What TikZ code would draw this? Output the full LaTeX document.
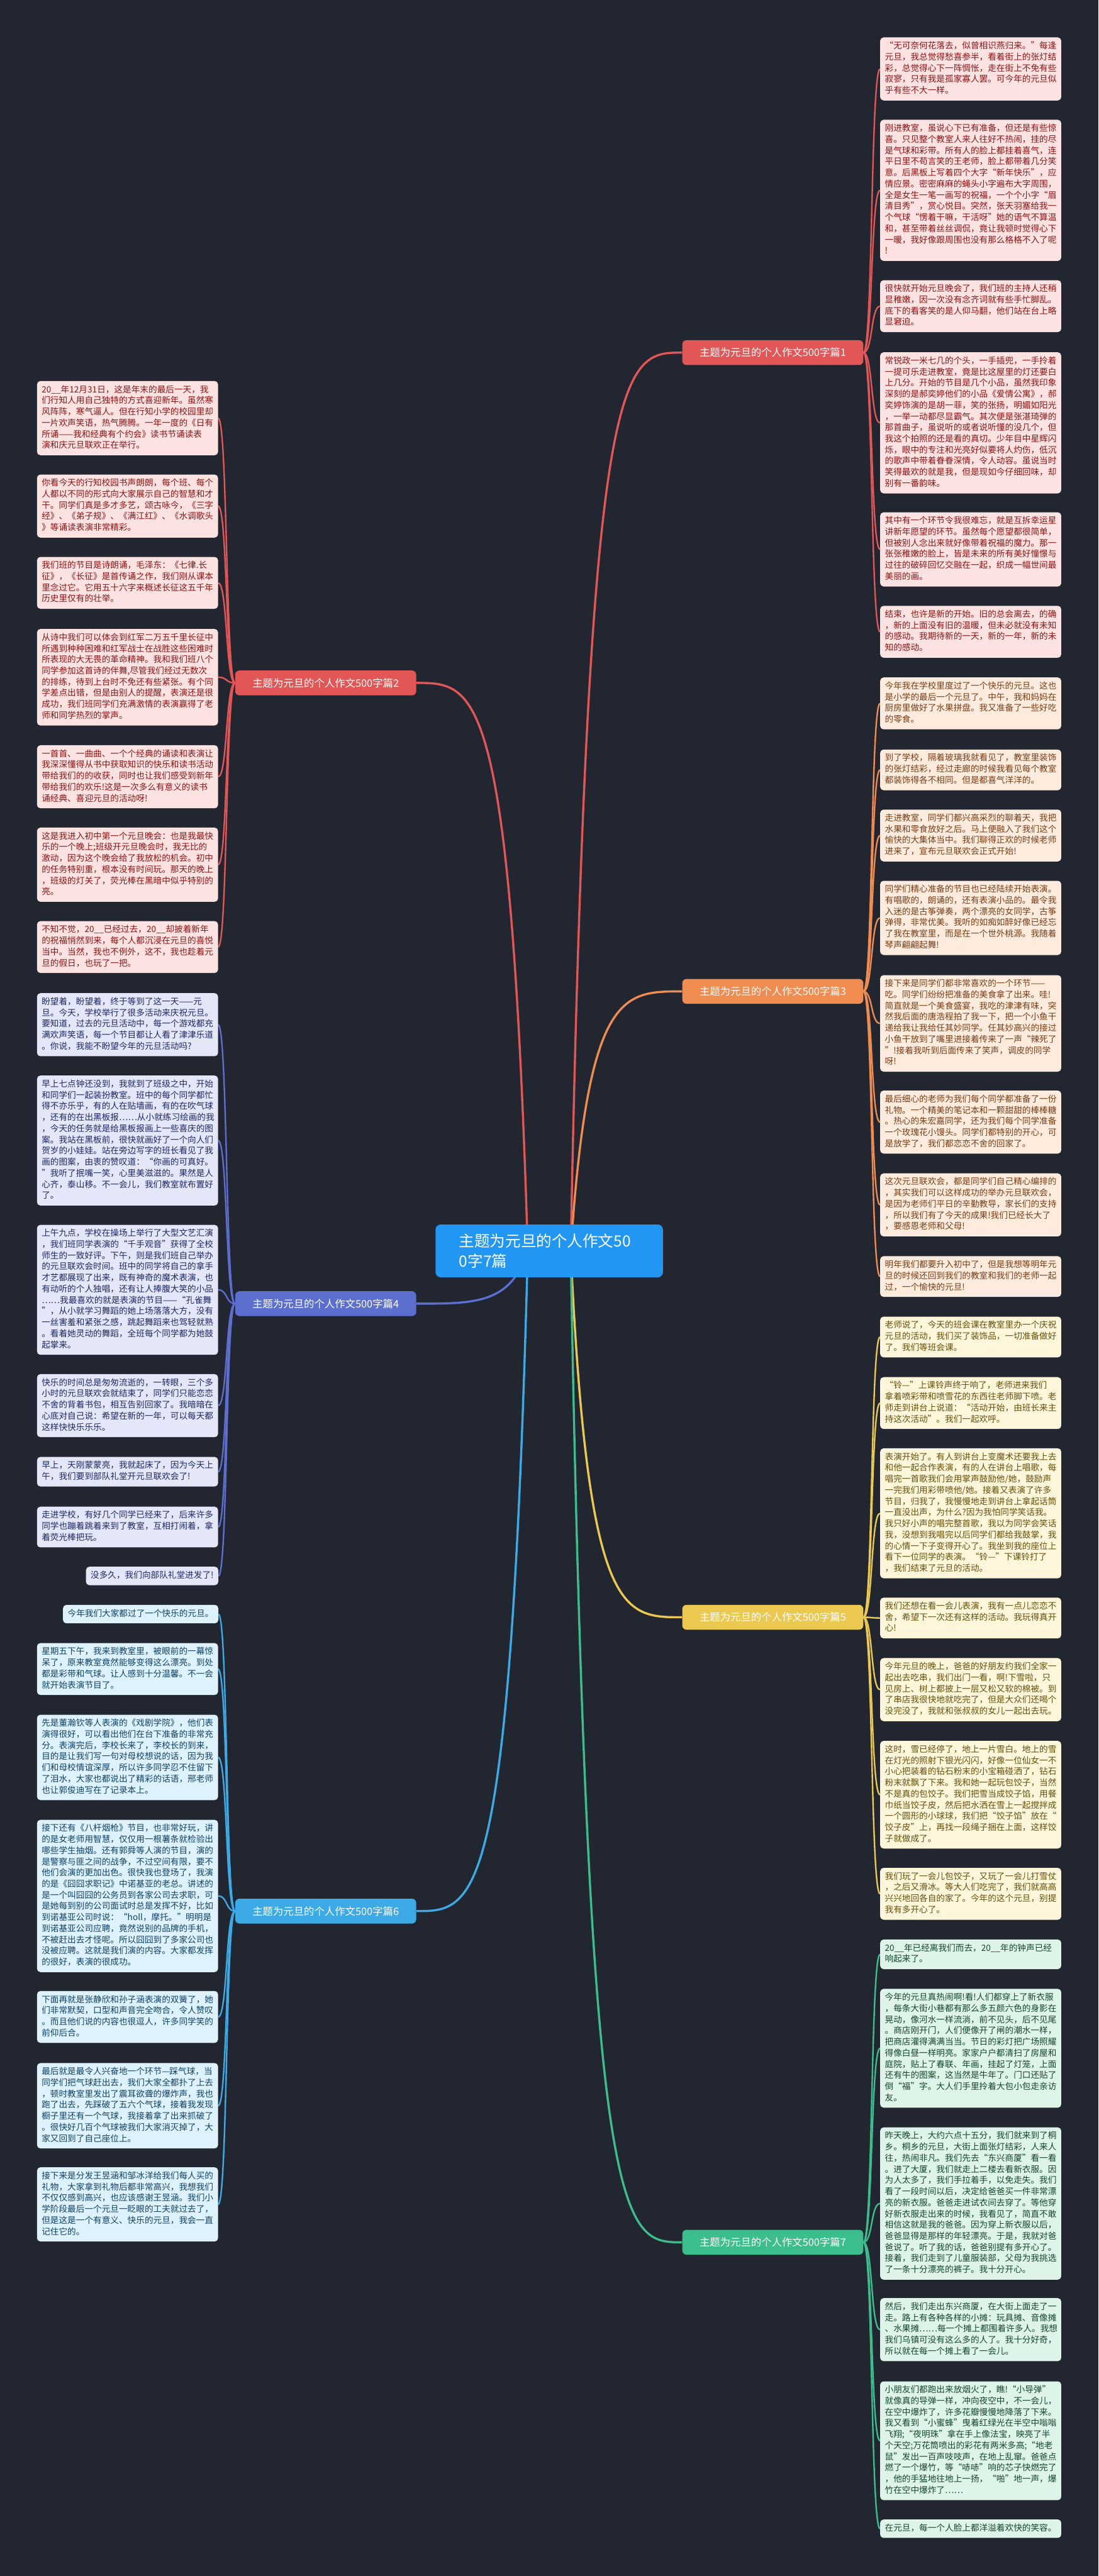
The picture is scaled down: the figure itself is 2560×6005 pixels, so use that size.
\documentclass[tikz,border=0pt]{standalone}
\usepackage{fontspec}
\newfontfamily\cjk{Noto Sans CJK SC}
\usetikzlibrary{backgrounds}
\definecolor{bgc}{RGB}{34,38,49}
\definecolor{c1}{RGB}{226,86,86}
\definecolor{c3}{RGB}{240,140,80}
\definecolor{c4}{RGB}{92,110,206}
\definecolor{c5}{RGB}{235,200,80}
\definecolor{c6}{RGB}{60,170,230}
\definecolor{c7}{RGB}{60,190,140}
\definecolor{cc}{RGB}{33,150,243}
\definecolor{f1}{RGB}{253,226,226}\definecolor{t1}{RGB}{140,20,20}
\definecolor{f3}{RGB}{253,236,222}\definecolor{t3}{RGB}{120,60,20}
\definecolor{f4}{RGB}{228,231,248}\definecolor{t4}{RGB}{30,40,100}
\definecolor{f5}{RGB}{253,246,218}\definecolor{t5}{RGB}{100,80,10}
\definecolor{f6}{RGB}{222,242,253}\definecolor{t6}{RGB}{15,65,100}
\definecolor{f7}{RGB}{222,244,232}\definecolor{t7}{RGB}{20,70,45}
\tikzset{
  leafbase/.style={rounded corners=8pt, inner xsep=11pt, inner ysep=8.5pt,
    font=\cjk\fontsize{20}{26}\selectfont, align=left},
  leafw/.style={leafbase, text width=400pt},
  l1/.style={leafw, fill=f1, text=t1}, n1/.style={leafbase, fill=f1, text=t1},
  l3/.style={leafw, fill=f3, text=t3},
  l4/.style={leafw, fill=f4, text=t4}, n4/.style={leafbase, fill=f4, text=t4},
  l5/.style={leafw, fill=f5, text=t5},
  l6/.style={leafw, fill=f6, text=t6}, n6/.style={leafbase, fill=f6, text=t6},
  l7/.style={leafw, fill=f7, text=t7},
  branchnode/.style={rounded corners=10pt, minimum width=422pt, minimum height=58pt,
    font=\cjk\fontsize{24}{30}\selectfont, text=white, inner sep=4pt},
  mainline/.style={line width=5pt},
  leafline/.style={line width=3.5pt}
}
\newcommand\leafR[4]{\node[#3, anchor=north west] (#1) at (2051,#2) {\strut#4\strut};}
\newcommand\leafL[4]{\node[#3, anchor=north west] (#1) at (86,#2) {\strut#4\strut};}
\newcommand\leafLn[4]{\node[#3, anchor=north east] (#1) at (509,#2) {\strut#4\strut};}
\begin{document}
\begin{tikzpicture}[x=1pt,y=-1pt]
\useasboundingbox (0,0) rectangle (2560,6005);

% center
\node[fill=cc, rounded corners=12pt, minimum width=530pt, minimum height=123pt,
  text width=420pt, align=left, text=white, font=\cjk\fontsize{36}{46}\selectfont]
  (c) at (1280,2916) {主题为元旦的个人作文50\\0字7篇};

% branches
\node[branchnode, fill=c1] (b1) at (1801,822) {主题为元旦的个人作文500字篇1};
\node[branchnode, fill=c1] (b2) at (759,1592) {主题为元旦的个人作文500字篇2};
\node[branchnode, fill=c3] (b3) at (1801,2311) {主题为元旦的个人作文500字篇3};
\node[branchnode, fill=c4] (b4) at (759,3039) {主题为元旦的个人作文500字篇4};
\node[branchnode, fill=c5] (b5) at (1801,3770) {主题为元旦的个人作文500字篇5};
\node[branchnode, fill=c6] (b6) at (759,4455) {主题为元旦的个人作文500字篇6};
\node[branchnode, fill=c7] (b7) at (1801,5227) {主题为元旦的个人作文500字篇7};

% ---- branch 1 leaves
\leafR{r1a}{87}{l1}{“无可奈何花落去，似曾相识燕归来。”每逢\\元旦，我总觉得愁喜参半，看着街上的张灯结\\彩，总觉得心下一阵惆怅，走在街上不免有些\\寂寥，只有我是孤家寡人罢。可今年的元旦似\\乎有些不大一样。}
\leafR{r1b}{279}{l1}{刚进教室，虽说心下已有准备，但还是有些惊\\喜。只见整个教室人来人往好不热闹，挂的尽\\是气球和彩带。所有人的脸上都挂着喜气，连\\平日里不苟言笑的王老师，脸上都带着几分笑\\意。后黑板上写着四个大字“新年快乐”，应\\情应景。密密麻麻的蝇头小字遍布大字周围，\\全是女生一笔一画写的祝福，一个个小字“眉\\清目秀”，赏心悦目。突然，张天羽塞给我一\\个气球“愣着干嘛，干活呀”她的语气不算温\\和，甚至带着丝丝调侃，竟让我顿时觉得心下\\一暖，我好像跟周围也没有那么格格不入了呢\\!}
\leafR{r1c}{653}{l1}{很快就开始元旦晚会了，我们班的主持人还稍\\显稚嫩，因一次没有念齐词就有些手忙脚乱。\\底下的看客笑的是人仰马翻，他们站在台上略\\显窘迫。}
\leafR{r1d}{821}{l1}{常锐政一米七几的个头，一手插兜，一手拎着\\一提可乐走进教室，竟是比这屋里的灯还要白\\上几分。开始的节目是几个小品，虽然我印象\\深刻的是郝奕婷他们的小品《爱情公寓》，郝\\奕婷饰演的是胡一菲，笑的张扬，明媚如阳光\\，一举一动都尽显霸气。其次便是张湛琦弹的\\那首曲子，虽说听的或者说听懂的没几个，但\\我这个拍照的还是看的真切。少年目中星辉闪\\烁，眼中的专注和光亮好似要将人灼伤，低沉\\的歌声中带着眷眷深情，令人动容。虽说当时\\笑得最欢的就是我，但是现如今仔细回味，却\\别有一番韵味。}
\leafR{r1e}{1194}{l1}{其中有一个环节令我很难忘，就是互拆幸运星\\讲新年愿望的环节。虽然每个愿望都很简单，\\但被别人念出来就好像带着祝福的魔力。那一\\张张稚嫩的脸上，皆是未来的所有美好憧憬与\\过往的破碎回忆交融在一起，织成一幅世间最\\美丽的画。}
\leafR{r1f}{1412}{l1}{结束，也许是新的开始。旧的总会离去，的确\\，新的上面没有旧的温暖，但未必就没有未知\\的感动。我期待新的一天，新的一年，新的未\\知的感动。}

% ---- branch 3 leaves
\leafR{r3a}{1579}{l3}{今年我在学校里度过了一个快乐的元旦。这也\\是小学的最后一个元旦了。中午，我和妈妈在\\厨房里做好了水果拼盘。我又准备了一些好吃\\的零食。}
\leafR{r3b}{1747}{l3}{到了学校，隔着玻璃我就看见了，教室里装饰\\的张灯结彩，经过走廊的时候我看见每个教室\\都装饰得各不相同。但是都喜气洋洋的。}
\leafR{r3c}{1887}{l3}{走进教室，同学们都兴高采烈的聊着天，我把\\水果和零食放好之后。马上便融入了我们这个\\愉快的大集体当中。我们聊得正欢的时候老师\\进来了，宣布元旦联欢会正式开始!}
\leafR{r3d}{2053}{l3}{同学们精心准备的节目也已经陆续开始表演。\\有唱歌的，朗诵的，还有表演小品的。最令我\\入迷的是古筝弹奏，两个漂亮的女同学，古筝\\弹得，非常优美。我听的如痴如醉好像已经忘\\了我在教室里，而是在一个世外桃源。我随着\\琴声翩翩起舞!}
\leafR{r3e}{2273}{l3}{接下来是同学们都非常喜欢的一个环节——\\吃。同学们纷纷把准备的美食拿了出来。哇!\\简直就是一个美食盛宴，我吃的津津有味，突\\然我后面的唐浩程拍了我一下，把一个小鱼干\\递给我让我给任其妙同学。任其妙高兴的接过\\小鱼干放到了嘴里进接着传来了一声“辣死了\\”!接着我听到后面传来了笑声，调皮的同学\\呀!}
\leafR{r3f}{2542}{l3}{最后细心的老师为我们每个同学都准备了一份\\礼物。一个精美的笔记本和一颗甜甜的棒棒糖\\。热心的朱宏嘉同学，还为我们每个同学准备\\一个玫瑰花小馒头。同学们都特别的开心，可\\是放学了，我们都恋恋不舍的回家了。}
\leafR{r3g}{2735}{l3}{这次元旦联欢会，都是同学们自己精心编排的\\，其实我们可以这样成功的举办元旦联欢会，\\是因为老师们平日的辛勤教导，家长们的支持\\，所以我们有了今天的成果!我们已经长大了\\，要感恩老师和父母!}
\leafR{r3h}{2928}{l3}{明年我们都要升入初中了，但是我想等明年元\\旦的时候还回到我们的教室和我们的老师一起\\过，一个愉快的元旦!}

% ---- branch 5 leaves
\leafR{r5a}{3069}{l5}{老师说了，今天的班会课在教室里办一个庆祝\\元旦的活动，我们买了装饰品，一切准备做好\\了。我们等班会课。}
\leafR{r5b}{3210}{l5}{“铃—”上课铃声终于响了，老师进来我们\\拿着喷彩带和喷雪花的东西往老师脚下喷。老\\师走到讲台上说道：“活动开始，由班长来主\\持这次活动”。我们一起欢呼。}
\leafR{r5c}{3376}{l5}{表演开始了。有人到讲台上变魔术还要我上去\\和他一起合作表演，有的人在讲台上唱歌，每\\唱完一首歌我们会用掌声鼓励他/她，鼓励声\\一完我们用彩带喷他/她。接着又表演了许多\\节目，归我了，我慢慢地走到讲台上拿起话筒\\一直没出声，为什么?因为我怕同学笑话我。\\我只好小声的唱完整首歌，我以为同学会笑话\\我，没想到我唱完以后同学们都给我鼓掌，我\\的心情一下子变得开心了。我坐到我的座位上\\看下一位同学的表演。“铃—”下课铃打了\\，我们结束了元旦的活动。}
\leafR{r5d}{3724}{l5}{我们还想在看一会儿表演，我有一点儿恋恋不\\舍，希望下一次还有这样的活动。我玩得真开\\心!}
\leafR{r5e}{3865}{l5}{今年元旦的晚上，爸爸的好朋友约我们全家一\\起出去吃串，我们出门一看，啊!下雪啦，只\\见房上、树上都披上一层又松又软的棉被。到\\了串店我很快地就吃完了，但是大众们还喝个\\没完没了，我就和张叔叔的女儿一起出去玩。}
\leafR{r5f}{4058}{l5}{这时，雪已经停了，地上一片雪白。地上的雪\\在灯光的照射下银光闪闪，好像一位仙女一不\\小心把装着的钻石粉末的小宝箱碰洒了，钻石\\粉末就飘了下来。我和她一起玩包饺子，当然\\不是真的包饺子。我们把雪当成饺子馅，用餐\\巾纸当饺子皮，然后把水洒在雪上一起搅拌成\\一个圆形的小球球，我们把“饺子馅”放在“\\饺子皮”上，再找一段绳子捆在上面，这样饺\\子就做成了。}
\leafR{r5g}{4354}{l5}{我们玩了一会儿包饺子，又玩了一会儿打雪仗\\，之后又滑冰。等大人们吃完了，我们就高高\\兴兴地回各自的家了。今年的这个元旦，别提\\我有多开心了。}

% ---- branch 7 leaves
\leafR{r7a}{4521}{l7}{20\_\_年已经离我们而去，20\_\_年的钟声已经\\响起来了。}
\leafR{r7b}{4636}{l7}{今年的元旦真热闹啊!看!人们都穿上了新衣服\\，每条大街小巷都有那么多五颜六色的身影在\\晃动，像河水一样流淌，前不见头，后不见尾\\。商店刚开门，人们便像开了闸的潮水一样，\\把商店灌得满满当当。节日的彩灯把广场照耀\\得像白昼一样明亮。家家户户都清扫了房屋和\\庭院，贴上了春联、年画，挂起了灯笼，上面\\还有牛的图案，这当然是牛年了。门口还贴了\\倒“福”字。大人们手里拎着大包小包走亲访\\友。}
\leafR{r7c}{4959}{l7}{昨天晚上，大约六点十五分，我们就来到了桐\\乡。桐乡的元旦，大街上面张灯结彩，人来人\\往，热闹非凡。我们先去“东兴商厦”看一看\\。进了大厦，我们就走上二楼去看新衣服。因\\为人太多了，我们手拉着手，以免走失。我们\\看了一段时间以后，决定给爸爸买一件非常漂\\亮的新衣服。爸爸走进试衣间去穿了。等他穿\\好新衣服走出来的时候，我看见了，简直不敢\\相信这就是我的爸爸。因为穿上新衣服以后，\\爸爸显得是那样的年轻漂亮。于是，我就对爸\\爸说了。听了我的话，爸爸别提有多开心了。\\接着，我们走到了儿童服装部，父母为我挑选\\了一条十分漂亮的裤子。我十分开心。}
\leafR{r7d}{5357}{l7}{然后，我们走出东兴商厦，在大街上面走了一\\走。路上有各种各样的小摊：玩具摊、音像摊\\、水果摊……每一个摊上都围着许多人。我想\\我们乌镇可没有这么多的人了。我十分好奇，\\所以就在每一个摊上看了一会儿。}
\leafR{r7e}{5551}{l7}{小朋友们都跑出来放烟火了，瞧!“小导弹”\\就像真的导弹一样，冲向夜空中，不一会儿，\\在空中爆炸了，许多花瓣慢慢地降落了下来。\\我又看到“小蜜蜂”曳着红绿光在半空中嗡嗡\\飞翔;“夜明珠”拿在手上像法宝，映亮了半\\个天空;万花筒喷出的彩花有两米多高;“地老\\鼠”发出一百声吱吱声，在地上乱窜。爸爸点\\燃了一个爆竹，等“哧哧”响的芯子快燃完了\\，他的手猛地往地上一扬，“啪”地一声，爆\\竹在空中爆炸了……}
\leafR{r7f}{5873}{l7}{在元旦，每一个人脸上都洋溢着欢快的笑容。}

% ---- branch 2 leaves
\leafL{l2a}{888}{l1}{20\_\_年12月31日，这是年末的最后一天，我\\们行知人用自己独特的方式喜迎新年。虽然寒\\风阵阵，寒气逼人。但在行知小学的校园里却\\一片欢声笑语，热气腾腾。一年一度的《日有\\所诵——我和经典有个约会》读书节诵读表\\演和庆元旦联欢正在举行。}
\leafL{l2b}{1106}{l1}{你看今天的行知校园书声朗朗，每个班、每个\\人都以不同的形式向大家展示自己的智慧和才\\干。同学们真是多才多艺，颂古咏今，《三字\\经》、《弟子规》、《满江红》、《水调歌头\\》等诵读表演非常精彩。}
\leafL{l2c}{1298}{l1}{我们班的节目是诗朗诵，毛泽东：《七律.长\\征》，《长征》是首传诵之作，我们刚从课本\\里念过它。它用五十六字来概述长征这五千年\\历史里仅有的壮举。}
\leafL{l2d}{1466}{l1}{从诗中我们可以体会到红军二万五千里长征中\\所遇到种种困难和红军战士在战胜这些困难时\\所表现的大无畏的革命精神。我和我们班八个\\同学参加这首诗的伴舞,尽管我们经过无数次\\的排练，待到上台时不免还有些紧张。有个同\\学差点出错，但是由别人的提醒，表演还是很\\成功，我们班同学们充满激情的表演赢得了老\\师和同学热烈的掌声。}
\leafL{l2e}{1737}{l1}{一首首、一曲曲、一个个经典的诵读和表演让\\我深深懂得从书中获取知识的快乐和读书活动\\带给我们的的收获，同时也让我们感受到新年\\带给我们的欢乐!这是一次多么有意义的读书\\诵经典、喜迎元旦的活动呀!}
\leafL{l2f}{1929}{l1}{这是我进入初中第一个元旦晚会：也是我最快\\乐的一个晚上;班级开元旦晚会时，我无比的\\激动，因为这个晚会给了我放松的机会。初中\\的任务特别重，根本没有时间玩。那天的晚上\\，班级的灯关了，荧光棒在黑暗中似乎特别的\\亮。}
\leafL{l2g}{2147}{l1}{不知不觉，20\_\_已经过去，20\_\_却披着新年\\的祝福悄然到来，每个人都沉浸在元旦的喜悦\\当中。当然，我也不例外，这不，我也趁着元\\旦的假日，也玩了一把。}

% ---- branch 4 leaves
\leafL{l4a}{2315}{l4}{盼望着，盼望着，终于等到了这一天——元\\旦。今天，学校举行了很多活动来庆祝元旦。\\要知道，过去的元旦活动中，每一个游戏都充\\满欢声笑语，每一个节目都让人看了津津乐道\\。你说，我能不盼望今年的元旦活动吗?}
\leafL{l4b}{2507}{l4}{早上七点钟还没到，我就到了班级之中，开始\\和同学们一起装扮教室。班中的每个同学都忙\\得不亦乐乎，有的人在贴墙画，有的在吹气球\\，还有的在出黑板报……从小就练习绘画的我\\，今天的任务就是给黑板报画上一些喜庆的图\\案。我站在黑板前，很快就画好了一个向人们\\贺岁的小娃娃。站在旁边写字的班长看见了我\\画的图案，由衷的赞叹道：“你画的可真好。\\”我听了抿嘴一笑，心里美滋滋的。果然是人\\心齐，泰山移。不一会儿，我们教室就布置好\\了。}
\leafL{l4c}{2855}{l4}{上午九点，学校在操场上举行了大型文艺汇演\\，我们班同学表演的“千手观音”获得了全校\\师生的一致好评。下午，则是我们班自己举办\\的元旦联欢会时间。班中的同学将自己的拿手\\才艺都展现了出来，既有神奇的魔术表演，也\\有动听的个人独唱，还有让人捧腹大笑的小品\\……我最喜欢的就是表演的节目——“孔雀舞\\”，从小就学习舞蹈的她上场落落大方，没有\\一丝害羞和紧张之感，跳起舞蹈来也驾轻就熟\\。看着她灵动的舞蹈，全班每个同学都为她鼓\\起掌来。}
\leafL{l4d}{3203}{l4}{快乐的时间总是匆匆流逝的，一转眼，三个多\\小时的元旦联欢会就结束了，同学们只能恋恋\\不舍的背着书包，相互告别回家了。我暗暗在\\心底对自己说：希望在新的一年，可以每天都\\这样快快乐乐乐。}
\leafL{l4e}{3396}{l4}{早上，天刚蒙蒙亮，我就起床了，因为今天上\\午，我们要到部队礼堂开元旦联欢会了!}
\leafL{l4f}{3512}{l4}{走进学校，有好几个同学已经来了，后来许多\\同学也蹦着跳着来到了教室，互相打闹着，拿\\着荧光棒把玩。}
\leafLn{l4g}{3652}{n4}{没多久，我们向部队礼堂进发了!}

% ---- branch 6 leaves
\leafLn{l6a}{3741}{n6}{今年我们大家都过了一个快乐的元旦。}
\leafL{l6b}{3830}{l6}{星期五下午，我来到教室里，被眼前的一幕惊\\呆了，原来教室竟然能够变得这么漂亮。到处\\都是彩带和气球。让人感到十分温馨。不一会\\就开始表演节目了。}
\leafL{l6c}{3997}{l6}{先是董瀚钦等人表演的《戏剧学院》，他们表\\演得很好，可以看出他们在台下准备的非常充\\分。表演完后，李校长来了，李校长的到来，\\目的是让我们写一句对母校想说的话，因为我\\们和母校情谊深厚，所以许多同学忍不住留下\\了泪水，大家也都说出了精彩的话语，邢老师\\也让郭俊迪写在了记录本上。}
\leafL{l6d}{4242}{l6}{接下还有《八杆烟枪》节目，也非常好玩，讲\\的是女老师用智慧，仅仅用一根薯条就检验出\\哪些学生抽烟。还有郭舜等人演的节目，演的\\是警察与匪之间的战争，不过空间有限，要不\\他们会演的更加出色。很快我也登场了，我演\\的是《囧囧求职记》中诺基亚的老总。讲述的\\是一个叫囧囧的公务员到各家公司去求职，可\\是她每到别的公司面试时总是发挥不好，比如\\到诺基亚公司时说：“holl，摩托。”明明是\\到诺基亚公司应聘，竟然说别的品牌的手机，\\不被赶出去才怪呢。所以囧囧到了多家公司也\\没被应聘。这就是我们演的内容。大家都发挥\\的很好，表演的很成功。}
\leafL{l6e}{4641}{l6}{下面再就是张静欣和孙子涵表演的双簧了，她\\们非常默契，口型和声音完全吻合，令人赞叹\\。而且他们说的内容也很逗人，许多同学笑的\\前仰后合。}
\leafL{l6f}{4809}{l6}{最后就是最令人兴奋地一个环节—踩气球，当\\同学们把气球赶出去，我们大家全都扑了上去\\，顿时教室里发出了震耳欲聋的爆炸声，我也\\跑了出去，先踩破了五六个气球，接着我发现\\橱子里还有一个气球，我接着拿了出来抓破了\\。很快好几百个气球被我们大家消灭掉了，大\\家又回到了自己座位上。}
\leafL{l6g}{5052}{l6}{接下来是分发王昱涵和邹冰洋给我们每人买的\\礼物，大家拿到礼物后都非常高兴，我想我们\\不仅仅感到高兴，也应该感谢王昱涵。我们小\\学阶段最后一个元旦一眨眼的工夫就过去了，\\但是这是一个有意义、快乐的元旦，我会一直\\记住它的。}

\begin{scope}[on background layer]
\fill[bgc] (0,0) rectangle (2560,6005);
% center to branches
\draw[mainline, c1] (1330,2916) .. controls (1370,822) and (1450,822) .. (b1.west);
\draw[mainline, c3] (1330,2916) .. controls (1370,2311) and (1450,2311) .. (b3.west);
\draw[mainline, c5] (1330,2916) .. controls (1370,3770) and (1450,3770) .. (b5.west);
\draw[mainline, c7] (1330,2916) .. controls (1370,5227) and (1450,5227) .. (b7.west);
\draw[mainline, c1] (1230,2916) .. controls (1190,1592) and (1110,1592) .. (b2.east);
\draw[mainline, c4] (1230,2916) .. controls (1190,3039) and (1110,3039) .. (b4.east);
\draw[mainline, c6] (1230,2916) .. controls (1190,4455) and (1110,4455) .. (b6.east);
% branches to leaves
\foreach \n in {r1a,r1b,r1c,r1d,r1e,r1f}
  \draw[leafline, c1] (b1.east) .. controls +(22,0) and +(-22,0) .. (\n.west);
\foreach \n in {r3a,r3b,r3c,r3d,r3e,r3f,r3g,r3h}
  \draw[leafline, c3] (b3.east) .. controls +(22,0) and +(-22,0) .. (\n.west);
\foreach \n in {r5a,r5b,r5c,r5d,r5e,r5f,r5g}
  \draw[leafline, c5] (b5.east) .. controls +(22,0) and +(-22,0) .. (\n.west);
\foreach \n in {r7a,r7b,r7c,r7d,r7e,r7f}
  \draw[leafline, c7] (b7.east) .. controls +(22,0) and +(-22,0) .. (\n.west);
\foreach \n in {l2a,l2b,l2c,l2d,l2e,l2f,l2g}
  \draw[leafline, c1] (b2.west) .. controls +(-22,0) and +(22,0) .. (\n.east);
\foreach \n in {l4a,l4b,l4c,l4d,l4e,l4f,l4g}
  \draw[leafline, c4] (b4.west) .. controls +(-22,0) and +(22,0) .. (\n.east);
\foreach \n in {l6a,l6b,l6c,l6d,l6e,l6f,l6g}
  \draw[leafline, c6] (b6.west) .. controls +(-22,0) and +(22,0) .. (\n.east);
\end{scope}
\end{tikzpicture}
\end{document}
